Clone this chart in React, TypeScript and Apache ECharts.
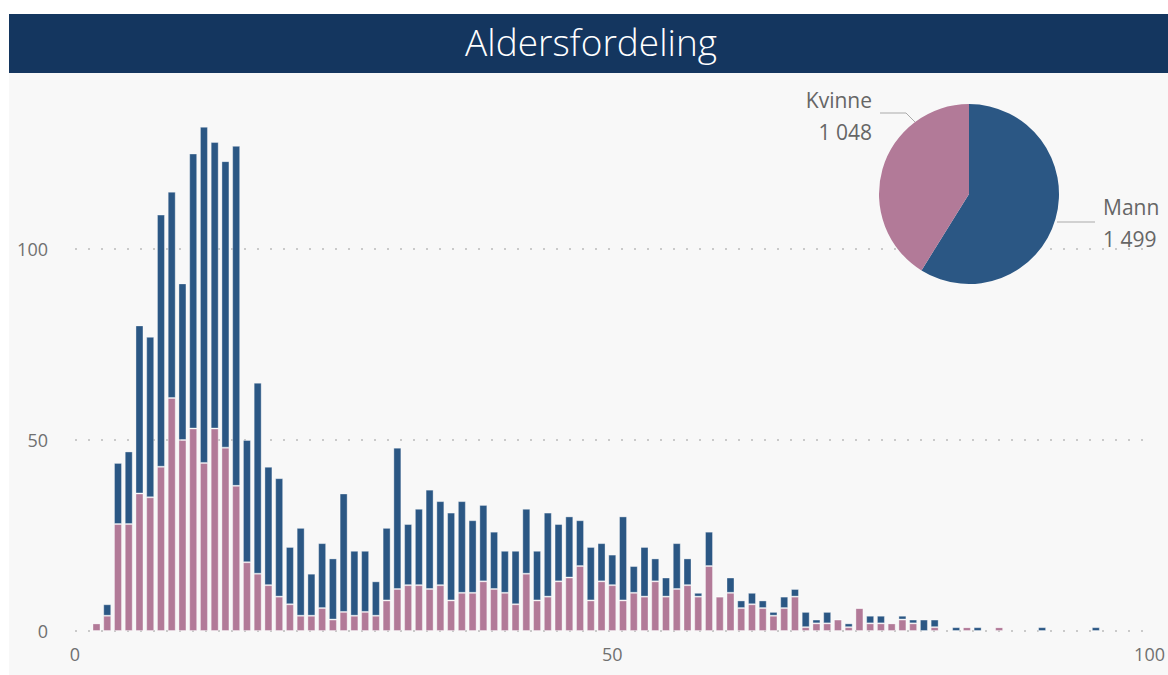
import React, { useEffect, useRef } from "react";
import * as echarts from "echarts";

const titleText = "Aldersfordeling";
const ages = [
  2, 3, 4, 5, 6, 7, 8, 9, 10, 11, 12, 13, 14, 15, 16, 17, 18, 19, 20, 21,
  22, 23, 24, 25, 26, 27, 28, 29, 30, 31, 32, 33, 34, 35, 36, 37, 38, 39, 40, 41,
  42, 43, 44, 45, 46, 47, 48, 49, 50, 51, 52, 53, 54, 55, 56, 57, 58, 59, 60, 61,
  62, 63, 64, 65, 66, 67, 68, 69, 70, 71, 72, 73, 74, 75, 76, 77, 78, 79, 80,
  82, 83, 84, 86, 90, 95,
];
const kvinne = [
  2, 4, 28, 28, 36, 35, 43, 61, 50, 53, 44, 53, 48, 38, 18, 15, 12, 9, 7, 4,
  4, 6, 3, 5, 4, 5, 4, 8, 11, 12, 12, 11, 12, 8, 10, 10, 13, 11, 10, 7,
  15, 8, 9, 13, 14, 17, 8, 13, 12, 8, 10, 9, 13, 9, 11, 12, 9, 17, 9, 10,
  6, 7, 6, 4, 6, 9, 1, 2, 2, 3, 1, 6, 2, 2, 2, 3, 2, 0, 1,
  0, 1, 0, 1, 0, 0,
];
const mann = [
  0, 3, 16, 19, 44, 42, 66, 54, 41, 72, 88, 75, 75, 89, 32, 50, 31, 31, 15, 23,
  11, 17, 16, 31, 17, 16, 9, 19, 37, 16, 20, 26, 22, 23, 24, 19, 20, 15, 11, 14,
  17, 13, 22, 15, 16, 12, 14, 10, 8, 22, 7, 13, 6, 5, 12, 7, 1, 9, 0, 4,
  2, 3, 2, 1, 3, 2, 4, 1, 3, 0, 1, 0, 2, 2, 0, 1, 1, 3, 2,
  1, 0, 1, 0, 1, 1,
];
const ageMin = 0;
const ageMax = 100;
const pieNames = ["Mann", "Kvinne"];
const pieValues = [1499, 1048];
const yTicks = [0, 50, 100];

const BLUE = "#2b5784";
const PINK = "#b27a98";
const NAVY = "#14365f";

function fmt(n: number): string {
  return String(n).replace(/\B(?=(\d{3})+(?!\d))/g, " ");
}

export default function App() {
  const ref = useRef<HTMLDivElement>(null);
  useEffect(() => {
    if (!ref.current) return;
    const chart = echarts.init(ref.current, undefined, { renderer: "svg" });
    const font = "'Open Sans', 'Noto Sans', sans-serif";
    const cats: string[] = [];
    for (let a = ageMin; a <= ageMax; a++) cats.push(String(a));
    const kv: (number | null)[] = cats.map(() => null);
    const mn: (number | null)[] = cats.map(() => null);
    ages.forEach((a, i) => {
      kv[a - ageMin] = kvinne[i];
      mn[a - ageMin] = mann[i];
    });
    const labelSpots: Record<string, any> = {
      Kvinne: { x: 872, y: 116, align: "right", pts: [[915, 122], [906, 113], [880, 113]] },
      Mann: { x: 1103, y: 223, align: "left", pts: [[1057, 222], [1070, 222], [1095, 222]] },
    };
    chart.setOption({
      animation: false,
      backgroundColor: "#ffffff",
      textStyle: { fontFamily: font },
      graphic: [
        { type: "rect", z: -10, shape: { x: 9, y: 73, width: 1159, height: 602 }, style: { fill: "#f8f8f8" } },
        { type: "rect", z: 100, shape: { x: 9, y: 14, width: 1159, height: 59 }, style: { fill: NAVY } },
        {
          type: "text", z: 101, x: 591, y: 41,
          style: { text: titleText, fill: "#ffffff", font: `300 37px ${font}`, align: "center", verticalAlign: "middle" },
        },
      ],
      grid: { left: 75, right: 17, top: 58, bottom: 44 },
      xAxis: {
        type: "category", data: cats, boundaryGap: false,
        axisLine: { show: false }, axisTick: { show: false }, splitLine: { show: false },
        axisLabel: { color: "#707070", fontSize: 18, margin: 14, interval: 49 },
      },
      yAxis: {
        type: "value", min: 0, max: 150, interval: 50,
        axisLine: { show: false }, axisTick: { show: false },
        axisLabel: {
          color: "#707070", fontSize: 18, margin: 27,
          formatter: (v: number) => (yTicks.includes(v) ? String(v) : ""),
        },
        splitLine: { show: true, lineStyle: { color: "#bbbbbb", type: [2, 11], width: 1.5 } },
      },
      series: [
        {
          name: "Kvinne", type: "bar", stack: "a", barWidth: 8,
          itemStyle: { color: PINK, borderColor: "rgba(255,255,255,0.35)", borderWidth: 1 },
          data: kv,
        },
        {
          name: "Mann", type: "bar", stack: "a", barWidth: 8,
          itemStyle: { color: BLUE, borderColor: "rgba(255,255,255,0.35)", borderWidth: 1 },
          data: mn,
        },
        {
          type: "pie", center: [969, 194], radius: 90, startAngle: 90, clockwise: true, z: 5,
          data: pieNames.map((n, i) => ({ name: n, value: pieValues[i], itemStyle: { color: i === 0 ? BLUE : PINK } })),
          label: {
            show: true, position: "outside", color: "#666", fontSize: 21, lineHeight: 32,
            formatter: (p: any) => `${p.name}\n${fmt(p.value)}`,
          },
          labelLine: { show: true, length: 10, length2: 30, lineStyle: { color: "#aaa", width: 1 } },
          labelLayout: (p: any) => {
            const name = pieNames[p.dataIndex];
            const s = labelSpots[name];
            return { x: s.x, y: s.y, align: s.align, verticalAlign: "middle", labelLinePoints: s.pts };
          },
          emphasis: { disabled: true },
        },
      ],
    });
    return () => chart.dispose();
  }, []);
  return <div ref={ref} style={{ position: "fixed", left: 0, top: 0, width: 1168, height: 675 }} />;
}
